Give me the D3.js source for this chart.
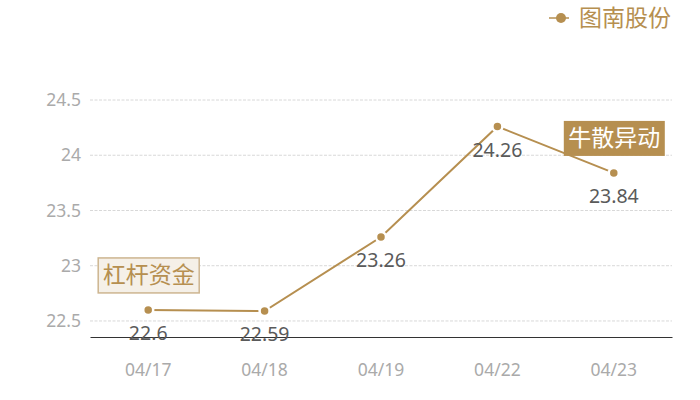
<!DOCTYPE html>
<html>
<head>
<meta charset="utf-8">
<script src="https://cdn.jsdelivr.net/npm/d3@7"></script>
<style>
    body { margin: 0; background: #fff; }
    svg text { font-family: "Noto Sans", "Noto Sans CJK SC", sans-serif; }
</style>
</head>
<body>
<svg id="chart" width="700" height="400"></svg>
<script>
const dates = ['04/17', '04/18', '04/19', '04/22', '04/23']
const prices = [22.6, 22.59, 23.26, 24.26, 23.84]
const yTicks = [22.5, 23, 23.5, 24, 24.5]
const seriesName = '图南股份'
// annotation tags attached to points
const tagDates = ['04/17', '04/23']
const tagTexts = ['杠杆资金', '牛散异动']
const tagStyles = ['light', 'dark']

const GOLD = '#b68f50'
const margin = { top: 100, right: 28, bottom: 63, left: 90 }
const width = 700
const height = 400

let svg = d3.select('#chart')

let x = d3.scaleBand()
    .domain(dates)
    .range([margin.left, width - margin.right])

let y = d3.scaleLinear()
    .domain([22.355, 24.5])
    .range([height - margin.bottom, margin.top])

const cx = (d) => x(d) + x.bandwidth() / 2

// gridlines
svg.append('g')
    .selectAll('line')
    .data(yTicks)
    .enter().append('line')
    .attr('x1', margin.left)
    .attr('x2', width - margin.right)
    .attr('y1', (d) => y(d))
    .attr('y2', (d) => y(d))
    .attr('stroke', '#d8d8d8')
    .attr('stroke-dasharray', '3,1.5')

// y axis labels
let yAxis = svg.append('g')
    .attr('transform', 'translate(' + margin.left + ',0)')
    .call(d3.axisLeft(y).tickValues(yTicks).tickSize(0).tickPadding(9).tickFormat(d3.format('')))
yAxis.select('.domain').remove()
yAxis.selectAll('text')
    .attr('fill', '#aaa')
    .style('font-size', '17.5px')

// x axis
let xAxis = svg.append('g')
    .attr('transform', 'translate(0,' + (height - margin.bottom) + ')')
    .call(d3.axisBottom(x).tickSize(0).tickPadding(27))
xAxis.select('.domain')
    .attr('stroke', '#333')
xAxis.selectAll('text')
    .attr('fill', '#aaa')
    .style('font-size', '17.5px')

// line
let line = d3.line()
    .x((d, i) => cx(dates[i]))
    .y((d) => y(d))

svg.append('path')
    .datum(prices)
    .attr('d', line)
    .attr('fill', 'none')
    .attr('stroke', GOLD)
    .attr('stroke-width', 2)

svg.append('g')
    .selectAll('circle')
    .data(prices)
    .enter().append('circle')
    .attr('cx', (d, i) => cx(dates[i]))
    .attr('cy', (d) => y(d))
    .attr('r', 5)
    .attr('fill', GOLD)
    .attr('stroke', '#fff')
    .attr('stroke-width', 2.5)

// value labels
svg.append('g')
    .selectAll('text')
    .data(prices)
    .enter().append('text')
    .attr('x', (d, i) => cx(dates[i]))
    .attr('y', (d) => y(d) + 30)
    .attr('text-anchor', 'middle')
    .attr('fill', '#5a5a5a')
    .style('font-size', '19.5px')
    .text((d) => d)

// tags
let tag = svg.append('g')
    .selectAll('g')
    .data(tagDates)
    .enter().append('g')
    .attr('transform', (d) => {
        let v = prices[dates.indexOf(d)]
        return 'translate(' + cx(d) + ',' + (y(v) - 35) + ')'
    })

tag.append('rect')
    .attr('x', -50)
    .attr('y', -17)
    .attr('width', 101)
    .attr('height', 35)
    .attr('fill', (d, i) => tagStyles[i] === 'dark' ? GOLD : '#f5f0e8')
    .attr('stroke', (d, i) => tagStyles[i] === 'dark' ? 'none' : '#cdb590')
    .attr('stroke-width', 1.5)

tag.append('text')
    .attr('x', 0.5)
    .attr('text-anchor', 'middle')
    .attr('dy', '0.36em')
    .attr('fill', (d, i) => tagStyles[i] === 'dark' ? '#fff' : GOLD)
    .style('font-size', '23px')
    .text((d, i) => tagTexts[i])

// legend
let legend = svg.append('g')
    .attr('transform', 'translate(549,18)')
legend.append('line')
    .attr('x1', 0)
    .attr('x2', 20)
    .attr('stroke', GOLD)
    .attr('stroke-width', 1.5)
legend.append('circle')
    .attr('cx', 12)
    .attr('r', 5)
    .attr('fill', GOLD)
legend.append('text')
    .attr('x', 30)
    .attr('dy', '0.36em')
    .attr('fill', GOLD)
    .style('font-size', '23px')
    .text(seriesName)
</script>
</body>
</html>
